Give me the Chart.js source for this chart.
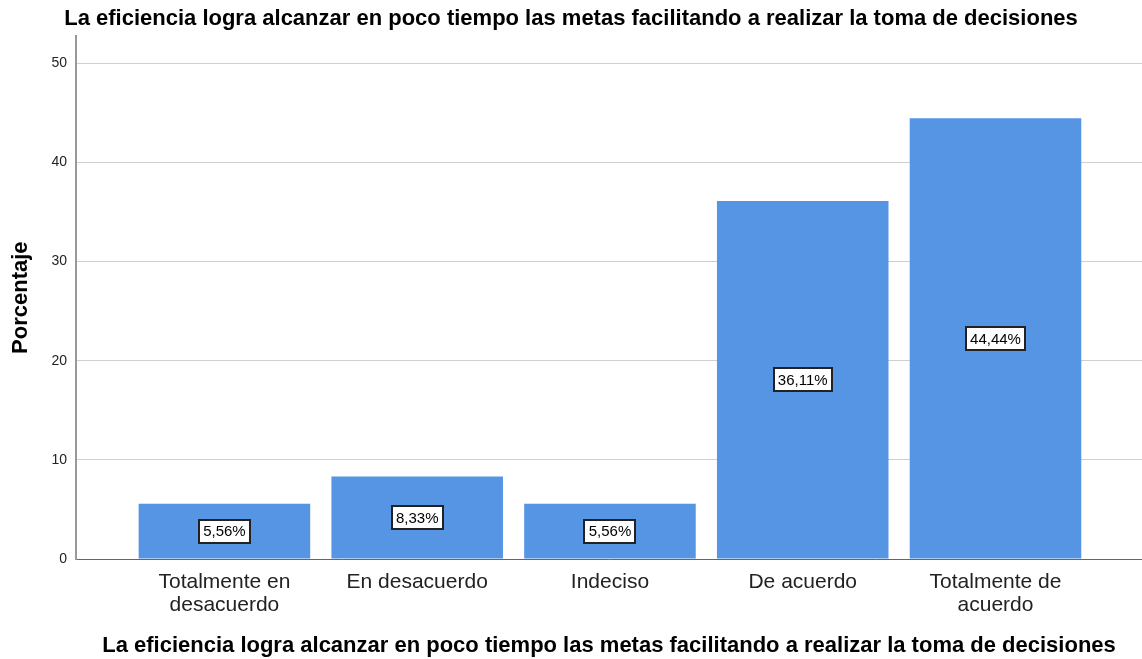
<!DOCTYPE html>
<html>
<head>
<meta charset="utf-8">
<script src="https://cdn.jsdelivr.net/npm/chart.js@4"></script>
<style>
  html, body { margin: 0; padding: 0; background: #fff; }
  #wrap { width: 1142px; height: 659px; }
</style>
</head>
<body>
<div id="wrap"><canvas id="chart"></canvas></div>
<script>
const categories = [
  ['Totalmente en', 'desacuerdo'],
  'En desacuerdo',
  'Indeciso',
  'De acuerdo',
  ['Totalmente de', 'acuerdo']
];
const percentages = [5.56, 8.33, 5.56, 36.11, 44.44];
const valueLabels = ['5,56%', '8,33%', '5,56%', '36,11%', '44,44%'];
const yTicks = [0, 10, 20, 30, 40, 50];
const titleText = 'La eficiencia logra alcanzar en poco tiempo las metas facilitando a realizar la toma de decisiones';

const FONT = "'Liberation Sans', Arial, sans-serif";

// cajas con el porcentaje en el centro de cada barra
const boxLabels = {
  id: 'boxLabels',
  afterDatasetsDraw(chart) {
    const ctx = chart.ctx;
    const meta = chart.getDatasetMeta(0);
    ctx.save();
    ctx.font = '15px ' + FONT;
    ctx.textAlign = 'center';
    ctx.textBaseline = 'middle';
    meta.data.forEach((bar, i) => {
      const txt = valueLabels[i];
      const cy = (bar.y + bar.base) / 2;
      const w = Math.round(ctx.measureText(txt).width + 8);
      const h = 23;
      const x0 = Math.round(bar.x - w / 2);
      const y0 = Math.round(cy - h / 2);
      ctx.fillStyle = '#fff';
      ctx.fillRect(x0, y0, w, h);
      ctx.strokeStyle = '#222';
      ctx.lineWidth = 2;
      ctx.strokeRect(x0, y0, w, h);
      ctx.fillStyle = '#000';
      ctx.fillText(txt, bar.x, cy + 1);
    });
    ctx.restore();
  }
};

new Chart(document.getElementById('chart'), {
  type: 'bar',
  data: {
    datasets: [{
      data: percentages.map((v, i) => ({ x: i, y: v })),
      backgroundColor: '#5595e3',
      borderWidth: 0,
      barPercentage: 1,
      categoryPercentage: 0.89
    }]
  },
  options: {
    responsive: true,
    maintainAspectRatio: false,
    animation: false,
    layout: { padding: 0 },
    plugins: {
      legend: { display: false },
      tooltip: { enabled: false },
      title: {
        display: true,
        text: titleText,
        color: '#000',
        font: { family: FONT, size: 22, weight: 'bold' },
        padding: { top: 6, bottom: 4 }
      }
    },
    scales: {
      x: {
        type: 'linear',
        offset: false,
        min: -0.77,
        max: 4.76,
        afterBuildTicks(scale) {
          scale.ticks = categories.map((c, i) => ({ value: i }));
        },
        afterFit(scale) { scale.height = 100; },
        grid: { display: false, drawTicks: false },
        border: { display: true, color: '#666', width: 1 },
        ticks: {
          autoSkip: false,
          maxRotation: 0,
          padding: 12,
          color: '#222',
          font: { family: FONT, size: 21, lineHeight: 1.1 },
          callback: (v) => categories[v]
        },
        title: {
          display: true,
          text: titleText,
          color: '#000',
          font: { family: FONT, size: 22, weight: 'bold' },
          padding: { top: 10, bottom: 0 }
        }
      },
      y: {
        min: 0,
        max: 52.7,
        afterBuildTicks(scale) {
          scale.ticks = yTicks.map(v => ({ value: v }));
        },
        afterFit(scale) { scale.width = 76; },
        grid: { color: '#cfcfcf', lineWidth: 1, drawTicks: false },
        border: { display: true, color: '#999', width: 2 },
        ticks: {
          padding: 9,
          color: '#222',
          font: { family: FONT, size: 14 }
        },
        title: {
          display: true,
          text: 'Porcentaje',
          color: '#000',
          font: { family: FONT, size: 22, weight: 'bold' },
          padding: { top: 8, bottom: 6 }
        }
      }
    }
  },
  plugins: [boxLabels]
});
</script>
</body>
</html>
